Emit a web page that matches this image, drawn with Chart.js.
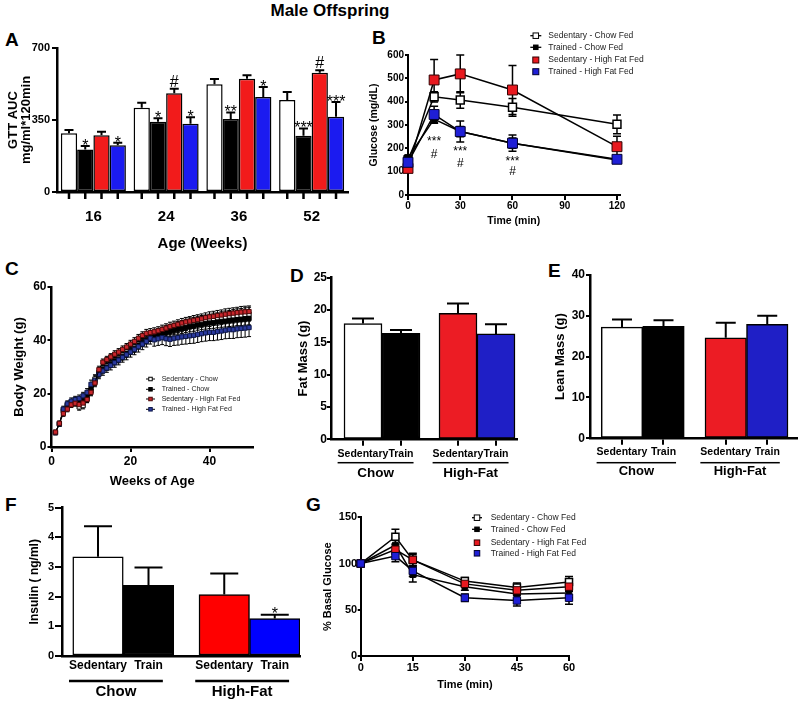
<!DOCTYPE html>
<html>
<head>
<meta charset="utf-8">
<title>Male Offspring</title>
<script src="https://cdn.jsdelivr.net/npm/chart.js@4.4.1/dist/chart.umd.min.js"></script>
<style>
  html, body { margin:0; padding:0; background:#fff; }
  body { position:relative; width:799px; height:701px; overflow:hidden; font-family:'Liberation Sans', Arial, Helvetica, sans-serif; color:#000; }
  canvas { position:absolute; }
  .txt { position:absolute; font-weight:bold; line-height:1; white-space:nowrap; }
  .letter { font-size:19px; }
</style>
</head>
<body>
<div class="txt" style="left:230px;top:2px;width:200px;text-align:center;font-size:17px;">Male Offspring</div>
<div class="txt letter" style="left:5px;top:29.5px;">A</div>
<div class="txt letter" style="left:372px;top:27.5px;">B</div>
<div class="txt letter" style="left:5px;top:258.5px;">C</div>
<div class="txt letter" style="left:290px;top:265.5px;">D</div>
<div class="txt letter" style="left:548px;top:260.5px;">E</div>
<div class="txt letter" style="left:5px;top:494.5px;">F</div>
<div class="txt letter" style="left:306px;top:494.5px;">G</div>
<script>
// ======================= DATA =======================
const gttSeries = ['Sedentary - Chow Fed', 'Trained - Chow Fed', 'Sedentary - High Fat Fed', 'Trained - High Fat Fed'];
const bwSeries = ['Sedentary - Chow', 'Trained - Chow', 'Sedentary - High Fat Fed', 'Trained - High Fat Fed'];

// Panel A : GTT AUC by age
const aAges = ['16', '24', '36', '52'];
const aYTicks = [0, 350, 700];
const aSedChow = [285, 410, 524, 447];
const aSedChowErr = [16, 24, 25, 39];
const aTrChow = [207, 342, 355, 274];
const aTrChowErr = [17, 16, 32, 35];
const aSedHF = [276, 480, 551, 580];
const aSedHFErr = [17, 22, 16, 12];
const aTrHF = [227, 332, 462, 366];
const aTrHFErr = [13, 31, 48, 71];
const aTrChowSig = ['*', '*', '**', '***'];
const aSedHFSig = ['', '#', '', '#'];
const aTrHFSig = ['*', '*', '*', '***'];

// Panel B : glucose tolerance test
const bTimes = [0, 15, 30, 60, 120];
const bXTicks = [0, 30, 60, 90, 120];
const bYTicks = [0, 100, 200, 300, 400, 500, 600];
const bSedChow = [150, 421, 407, 376, 303];
const bSedChowErr = [10, 22, 35, 38, 40];
const bTrChow = [160, 325, 272, 222, 150];
const bTrChowErr = [10, 18, 22, 22, 12];
const bSedHF = [114, 493, 519, 450, 207];
const bSedHFErr = [10, 88, 81, 105, 45];
const bTrHF = [140, 345, 272, 222, 153];
const bTrHFErr = [15, 35, 45, 35, 15];
const bSigText = ['***', '#', '***', '#', '***', '#'];
const bSigTime = [15, 15, 30, 30, 60, 60];
const bSigLevel = [243, 178, 200, 138, 160, 104];

// Panel C : body weight
const cWeeks = [1,2,3,4,5,6,7,8,9,10,11,12,13,14,15,16,17,18,19,20,21,22,23,24,25,26,27,28,29,30,31,32,33,34,35,36,37,38,39,40,41,42,43,44,45,46,47,48,49,50];
const cXTicks = [0, 20, 40];
const cYTicks = [0, 20, 40, 60];
const cSedChow = [5.5,8.8,13.5,15.5,16.5,17.0,15.0,15.5,18.0,21.0,25.5,28.0,29.5,30.5,31.6,32.5,33.4,34.5,35.6,36.4,37.5,38.6,39.4,40.5,41.4,42.0,42.6,43.0,43.6,44.0,44.4,45.0,45.4,45.8,46.3,46.5,46.8,47.1,47.3,47.5,47.9,48.0,48.3,48.6,48.8,49.0,49.3,49.4,49.6,49.8];
const cSedChowErr = [0.6,0.8,1.0,1.0,1.1,1.1,1.2,1.2,1.3,1.5,1.6,1.5,1.4,1.4,1.4,1.5,1.5,1.5,1.6,1.6,1.6,1.7,1.7,1.7,1.8,1.8,1.8,1.9,1.9,1.9,2.0,2.0,2.0,2.1,2.1,2.1,2.2,2.2,2.2,2.3,2.3,2.3,2.4,2.4,2.4,2.5,2.5,2.5,2.6,2.6];
const cTrChow = [5.3,8.6,14.0,15.8,16.8,17.5,17.0,18.0,19.0,22.0,24.5,27.5,29.0,30.0,31.2,32.2,33.0,34.0,35.0,36.2,37.0,38.2,39.2,40.2,41.2,41.5,42.0,42.6,43.0,43.3,43.8,44.2,44.5,44.8,45.2,45.4,45.8,46.0,46.3,46.5,46.6,46.9,47.1,47.2,47.5,47.6,47.8,47.9,48.1,48.2];
const cTrChowErr = [0.5,0.7,0.9,0.9,1.0,1.0,1.1,1.1,1.2,1.3,1.4,1.3,1.3,1.3,1.3,1.4,1.4,1.4,1.4,1.5,1.5,1.5,1.6,1.6,1.6,1.7,1.7,1.7,1.8,1.8,1.8,1.9,1.9,1.9,2.0,2.0,2.0,2.0,2.1,2.1,2.1,2.2,2.2,2.2,2.3,2.3,2.3,2.4,2.4,2.4];
const cSedHF = [5.6,8.9,12.5,14.2,15.8,16.4,15.9,16.5,17.8,20.5,24.0,29.0,31.8,32.8,33.8,34.8,35.6,36.6,37.5,38.6,39.6,40.8,41.8,42.6,42.9,43.2,43.6,44.1,44.6,45.2,45.6,46.0,46.5,46.9,47.2,47.5,47.8,48.1,48.5,48.8,49.0,49.3,49.5,49.8,50.0,50.2,50.4,50.6,50.7,50.8];
const cSedHFErr = [0.6,0.8,1.0,1.0,1.0,1.1,1.1,1.2,1.2,1.3,1.4,1.3,1.2,1.2,1.2,1.3,1.3,1.3,1.3,1.4,1.4,1.4,1.4,1.5,1.5,1.5,1.5,1.6,1.6,1.6,1.6,1.7,1.7,1.7,1.7,1.8,1.8,1.8,1.8,1.9,1.9,1.9,1.9,2.0,2.0,2.0,2.0,2.1,2.1,2.1];
const cTrHF = [5.4,8.7,14.2,16.2,17.2,17.8,18.2,19.2,20.5,23.5,25.0,27.2,28.5,29.6,30.6,31.6,32.6,33.6,34.6,35.6,36.6,37.6,38.6,39.6,40.8,40.2,40.6,41.0,40.6,40.4,40.8,41.0,41.3,41.5,41.7,41.9,42.2,42.5,42.8,43.0,43.0,43.3,43.5,43.8,44.0,44.0,44.3,44.5,44.6,44.8];
const cTrHFErr = [0.6,0.9,1.1,1.1,1.2,1.2,1.3,1.3,1.4,1.6,1.7,1.6,1.6,1.6,1.7,1.7,1.8,1.8,1.9,1.9,2.0,2.0,2.1,2.1,2.2,2.4,2.5,2.6,2.6,2.7,2.7,2.8,2.8,2.9,2.9,3.0,3.0,3.0,3.1,3.1,3.1,3.2,3.2,3.2,3.3,3.3,3.3,3.4,3.4,3.4];

// Panels D, E, F : bar groups
const barGroupLabels = ['Chow', 'High-Fat'];
const barSubLabels = ['Sedentary', 'Train', 'Sedentary', 'Train'];
const barSlots = [0, 1, 2.5, 3.5];
const dYTicks = [0, 5, 10, 15, 20, 25];
const dFatMass = [17.9, 16.4, 19.5, 16.3];
const dFatMassErr = [0.8, 0.5, 1.5, 1.5];
const eYTicks = [0, 10, 20, 30, 40];
const eLeanMass = [27.2, 27.4, 24.6, 27.9];
const eLeanMassErr = [1.9, 1.5, 3.7, 2.1];
const fYTicks = [0, 1, 2, 3, 4, 5];
const fInsulin = [3.34, 2.38, 2.07, 1.26];
const fInsulinErr = [1.03, 0.60, 0.71, 0.13];
const fSig = ['', '', '', '*'];

// Panel G : % basal glucose
const gTimes = [0, 10, 15, 30, 45, 60];
const gXTicks = [0, 15, 30, 45, 60];
const gYTicks = [0, 50, 100, 150];
const gSedChow = [100, 129, 104, 81, 74, 80];
const gSedChowErr = [2, 8, 6, 4, 5, 6];
const gTrChow = [100, 120, 88, 75, 67, 68];
const gTrChowErr = [2, 7, 8, 4, 5, 5];
const gSedHF = [100, 115, 104, 78, 71, 75];
const gSedHFErr = [2, 5, 7, 3, 5, 4];
const gTrHF = [100, 108, 92, 63, 60, 63];
const gTrHFErr = [2, 6, 6, 4, 6, 7];

// ======================= SETUP =======================
const FONT = "'Liberation Sans', Arial, Helvetica, sans-serif";
Chart.defaults.font.family = FONT;
Chart.defaults.color = '#000';
Chart.defaults.animation = false;
Chart.defaults.responsive = false;
Chart.defaults.events = [];
Chart.defaults.plugins.legend.display = false;
Chart.defaults.plugins.tooltip.enabled = false;

const RED_BAR = '#f21b1b', BLUE_BAR = '#1b1bf0';
const RED_DE = '#ec1c24', BLUE_DE = '#1f1fc6';

function pts(xs, ys) { return xs.map((x, i) => ({ x: x, y: ys[i] })); }
function valOf(d) { return (d !== null && typeof d === 'object') ? d.y : d; }

function place(id, r) {
  const c = document.createElement('canvas');
  c.id = id; c.width = r[2]; c.height = r[3];
  c.style.left = r[0] + 'px'; c.style.top = r[1] + 'px';
  document.body.appendChild(c);
  return c;
}
function frame(r, a) {
  return {
    padding: { left: 0, top: a[1] - r[1], right: r[0] + r[2] - a[2], bottom: 0 },
    yWidth: a[0] - r[0],
    xHeight: r[1] + r[3] - a[3]
  };
}
function numAxis(f, horiz, ticks, min, max, o) {
  const ax = {
    type: 'linear', min: min, max: max, offset: false,
    afterBuildTicks: s => { s.ticks = ticks.map(v => ({ value: v })); },
    border: { display: true, color: '#000', width: o.axisW || 2.5 },
    grid: { display: o.tl > 0, offset: false, drawOnChartArea: false, drawTicks: o.tl > 0, tickLength: o.tl, tickWidth: o.tickW || 2, lineWidth: o.tickW || 2, color: '#000', tickColor: '#000' },
    ticks: { font: { size: o.fs, weight: 'bold' }, padding: o.pad, color: '#000', autoSkip: false, maxRotation: 0, minRotation: 0 },
    title: { display: !!o.title, text: o.title, color: '#000', font: { size: o.tfs, weight: 'bold', lineHeight: o.tlh || 1.2 }, padding: { top: o.tpad || 0, bottom: o.tpad || 0 } }
  };
  if (horiz) ax.afterFit = s => { s.height = f.xHeight; };
  else ax.afterFit = s => { s.width = f.yWidth; };
  if (o.callback) ax.ticks.callback = o.callback;
  return ax;
}

// ---- plugins ----
function drawErrorBars(chart, o) {
  const ctx = chart.ctx, ys = chart.scales.y;
  ctx.save();
  ctx.strokeStyle = '#000';
  ctx.lineWidth = o.lineWidth || 1.5;
  chart.data.datasets.forEach((ds, di) => {
    if (!ds.errors) return;
    const meta = chart.getDatasetMeta(di);
    meta.data.forEach((el, i) => {
      const e = ds.errors[i];
      if (e == null) return;
      const v = valOf(ds.data[i]);
      const x = el.x;
      const yTop = ys.getPixelForValue(v + e);
      const yBot = o.mode === 'up' ? ys.getPixelForValue(v) : ys.getPixelForValue(v - e);
      const c = o.cap / 2;
      ctx.beginPath();
      ctx.moveTo(x, yTop); ctx.lineTo(x, yBot);
      ctx.moveTo(x - c, yTop); ctx.lineTo(x + c, yTop);
      if (o.mode !== 'up') { ctx.moveTo(x - c, yBot); ctx.lineTo(x + c, yBot); }
      ctx.stroke();
    });
  });
  ctx.restore();
}
const errorBarPlugin = {
  id: 'errorBars',
  beforeDatasetsDraw(chart, a, o) { if (o.phase === 'before') drawErrorBars(chart, o); },
  afterDatasetsDraw(chart, a, o) { if (o.phase !== 'before') drawErrorBars(chart, o); }
};
function markLift(text, fs) { return text.indexOf('*') >= 0 ? 0.43 * fs : 0; }
const sigPlugin = {
  id: 'sigMarks',
  afterDatasetsDraw(chart, a, o) {
    const ctx = chart.ctx, ys = chart.scales.y;
    ctx.save();
    ctx.fillStyle = '#000';
    ctx.font = o.fs + 'px ' + FONT;
    ctx.textAlign = 'center'; ctx.textBaseline = 'alphabetic';
    chart.data.datasets.forEach((ds, di) => {
      if (!ds.marks) return;
      const meta = chart.getDatasetMeta(di);
      meta.data.forEach((el, i) => {
        const t = ds.marks[i];
        if (!t) return;
        const top = ys.getPixelForValue(valOf(ds.data[i]) + (ds.errors ? ds.errors[i] : 0));
        ctx.fillText(t, el.x, top - o.gap + markLift(t, o.fs));
      });
    });
    ctx.restore();
  }
};
const freeMarkPlugin = {
  id: 'freeMarks',
  afterDatasetsDraw(chart, a, o) {
    const ctx = chart.ctx, xs = chart.scales.x, ys = chart.scales.y;
    ctx.save();
    ctx.fillStyle = '#000';
    ctx.font = o.fs + 'px ' + FONT;
    ctx.textAlign = 'center'; ctx.textBaseline = 'alphabetic';
    o.texts.forEach((t, i) => {
      const lift = t.indexOf('*') >= 0 ? 0.57 * o.fs : 0.36 * o.fs;
      ctx.fillText(t, xs.getPixelForValue(o.xs[i]), ys.getPixelForValue(o.ys[i]) + lift);
    });
    ctx.restore();
  }
};
const barTickPlugin = {
  id: 'barTicks',
  afterDraw(chart, a, o) {
    const ctx = chart.ctx, b = chart.chartArea.bottom;
    ctx.save();
    ctx.strokeStyle = '#000'; ctx.lineWidth = o.width;
    chart.data.datasets.forEach((ds, di) => {
      chart.getDatasetMeta(di).data.forEach(el => {
        ctx.beginPath(); ctx.moveTo(el.x, b); ctx.lineTo(el.x, b + o.len); ctx.stroke();
      });
    });
    ctx.restore();
  }
};
const groupLabelPlugin = {
  id: 'groupLabels',
  afterDraw(chart, a, o) {
    const ctx = chart.ctx, xs = chart.scales.x, b = chart.chartArea.bottom;
    ctx.save();
    ctx.fillStyle = '#000';
    o.groups.forEach(g => {
      ctx.font = 'bold ' + o.subFs + 'px ' + FONT;
      const x0 = xs.getPixelForValue(barSlots[g.from]) - ctx.measureText(barSubLabels[g.from]).width / 2;
      const x1 = xs.getPixelForValue(barSlots[g.to]) + ctx.measureText(barSubLabels[g.to]).width / 2;
      ctx.fillRect(x0, b + o.lineDy - o.lineW / 2, x1 - x0, o.lineW);
      ctx.font = 'bold ' + o.groupFs + 'px ' + FONT;
      ctx.textAlign = 'center'; ctx.textBaseline = 'middle';
      ctx.fillText(g.label, (x0 + x1) / 2, b + o.labelDy);
    });
    ctx.restore();
  }
};
const panelLegendPlugin = {
  id: 'panelLegend',
  afterDraw(chart, a, o) {
    if (!o || !o.ys) return;
    const ctx = chart.ctx, ox = chart.canvas.offsetLeft, oy = chart.canvas.offsetTop;
    ctx.save();
    ctx.font = o.fs + 'px ' + FONT;
    ctx.textAlign = 'left'; ctx.textBaseline = 'middle';
    chart.data.datasets.forEach((ds, i) => {
      const y = o.ys[i] - oy, sx = o.symbolX - ox;
      if (ds.legendLine) {
        ctx.strokeStyle = '#000'; ctx.lineWidth = o.lineW;
        ctx.beginPath(); ctx.moveTo(sx - o.lineHalf, y); ctx.lineTo(sx + o.lineHalf, y); ctx.stroke();
      }
      const s = ds.legendSize;
      ctx.fillStyle = ds.pointBackgroundColor;
      ctx.fillRect(sx - s / 2, y - s / 2, s, s);
      ctx.strokeStyle = ds.pointBorderColor; ctx.lineWidth = 1;
      ctx.strokeRect(sx - s / 2, y - s / 2, s, s);
      ctx.fillStyle = o.color;
      ctx.fillText(ds.label, o.textX - ox, y);
    });
    ctx.restore();
  }
};

// ======================= PANEL A =======================
(function () {
  const r = [0, 30, 360, 223], f = frame(r, [57, 48, 348, 192]);
  const y = numAxis(f, false, aYTicks, 0, 700, { fs: 11, pad: 2, tl: 5, title: ['GTT AUC', 'mg/ml*120min'], tfs: 13, tlh: 1, tpad: 6.5 });
  new Chart(place('chartA', r), {
    type: 'bar',
    data: {
      labels: aAges,
      datasets: [
        { label: gttSeries[0], data: aSedChow, errors: aSedChowErr, backgroundColor: '#ffffff' },
        { label: gttSeries[1], data: aTrChow, errors: aTrChowErr, marks: aTrChowSig, backgroundColor: '#000000' },
        { label: gttSeries[2], data: aSedHF, errors: aSedHFErr, marks: aSedHFSig, backgroundColor: RED_BAR },
        { label: gttSeries[3], data: aTrHF, errors: aTrHFErr, marks: aTrHFSig, backgroundColor: BLUE_BAR }
      ]
    },
    options: {
      layout: { padding: f.padding },
      datasets: { bar: { categoryPercentage: 0.894, barPercentage: 1, borderColor: '#000', borderWidth: 1.5, borderSkipped: false } },
      scales: {
        x: {
          type: 'category',
          afterFit: s => { s.height = f.xHeight; },
          border: { display: true, color: '#000', width: 2.5 },
          grid: { display: false, drawTicks: false },
          ticks: { font: { size: 15, weight: 'bold' }, padding: 15.7, color: '#000' },
          title: { display: true, text: 'Age (Weeks)', color: '#000', font: { size: 15, weight: 'bold' }, padding: { top: 0, bottom: 0.5 } }
        },
        y: y
      },
      plugins: {
        errorBars: { mode: 'up', cap: 9, lineWidth: 2, phase: 'after' },
        sigMarks: { fs: 16, gap: 2 },
        barTicks: { len: 7, width: 2.5 }
      }
    },
    plugins: [errorBarPlugin, sigPlugin, barTickPlugin]
  });
})();

// ======================= PANEL B =======================
(function () {
  const r = [362, 25, 300, 203], f = frame(r, [408, 55, 619.6, 195]);
  const common = { borderColor: '#000', borderWidth: 1.5, pointStyle: 'rect', tension: 0, clip: false, showLine: true };
  new Chart(place('chartB', r), {
    type: 'line',
    data: {
      datasets: [
        Object.assign({ label: gttSeries[0], data: pts(bTimes, bSedChow), errors: bSedChowErr, pointRadius: 5.6, pointBackgroundColor: '#ffffff', pointBorderColor: '#000', pointBorderWidth: 1.5, order: 3, legendLine: true, legendSize: 5.5 }, common),
        Object.assign({ label: gttSeries[1], data: pts(bTimes, bTrChow), errors: bTrChowErr, pointRadius: 4.2, pointBackgroundColor: '#000000', pointBorderColor: '#000', pointBorderWidth: 1, order: 2, legendLine: true, legendSize: 4.5 }, common),
        Object.assign({ label: gttSeries[2], data: pts(bTimes, bSedHF), errors: bSedHFErr, pointRadius: 7, pointBackgroundColor: '#e8191f', pointBorderColor: '#300000', pointBorderWidth: 1, order: 1, legendLine: false, legendSize: 6 }, common),
        Object.assign({ label: gttSeries[3], data: pts(bTimes, bTrHF), errors: bTrHFErr, pointRadius: 7, pointBackgroundColor: '#1f1fd6', pointBorderColor: '#000030', pointBorderWidth: 1, order: 0, legendLine: false, legendSize: 6 }, common)
      ]
    },
    options: {
      layout: { padding: f.padding },
      scales: {
        x: numAxis(f, true, bXTicks, 0, 121.5, { fs: 10, pad: 0, tl: 5, axisW: 2, title: 'Time (min)', tfs: 10.5, tpad: 0.7 }),
        y: numAxis(f, false, bYTicks, 0, 600, { fs: 10, pad: 1, tl: 3, axisW: 2, title: 'Glucose (mg/dL)', tfs: 10.5, tpad: 6 })
      },
      plugins: {
        errorBars: { mode: 'both', cap: 8, lineWidth: 1.5, phase: 'before' },
        freeMarks: { fs: 12, texts: bSigText, xs: bSigTime, ys: bSigLevel },
        panelLegend: { fs: 8.5, color: '#222', symbolX: 535.8, textX: 548.3, ys: [35.7, 47.3, 60, 71.7], lineHalf: 5.5, lineW: 1.3 }
      }
    },
    plugins: [errorBarPlugin, freeMarkPlugin, panelLegendPlugin]
  });
})();

// ======================= PANEL C =======================
(function () {
  const r = [0, 270, 262, 220], f = frame(r, [51.5, 287, 253, 447]);
  const common = { borderColor: '#000', borderWidth: 1, pointStyle: 'rect', pointRadius: 3, pointBorderWidth: 1, tension: 0, clip: false, legendLine: true, legendSize: 3.5 };
  new Chart(place('chartC', r), {
    type: 'line',
    data: {
      datasets: [
        Object.assign({ label: bwSeries[0], data: pts(cWeeks, cSedChow), errors: cSedChowErr, pointBackgroundColor: '#ffffff', pointBorderColor: '#000', order: 3 }, common),
        Object.assign({ label: bwSeries[1], data: pts(cWeeks, cTrChow), errors: cTrChowErr, pointBackgroundColor: '#000000', pointBorderColor: '#000', order: 2 }, common),
        Object.assign({ label: bwSeries[2], data: pts(cWeeks, cSedHF), errors: cSedHFErr, pointBackgroundColor: '#c8262c', pointBorderColor: '#4a0808', order: 0 }, common),
        Object.assign({ label: bwSeries[3], data: pts(cWeeks, cTrHF), errors: cTrHFErr, pointBackgroundColor: '#2b3a9e', pointBorderColor: '#0c1648', order: 1 }, common)
      ]
    },
    options: {
      layout: { padding: f.padding },
      scales: {
        x: numAxis(f, true, cXTicks, 0, 51, { fs: 12, pad: 2.8, tl: 5, title: 'Weeks of Age', tfs: 13, tpad: 0.5 }),
        y: numAxis(f, false, cYTicks, 0, 60, { fs: 12, pad: 1, tl: 4, title: 'Body Weight (g)', tfs: 13, tpad: 11.7 })
      },
      plugins: {
        errorBars: { mode: 'both', cap: 4, lineWidth: 1, phase: 'before' },
        panelLegend: { fs: 7, color: '#222', symbolX: 150.5, textX: 161.7, ys: [379, 389.3, 399, 409.3], lineHalf: 4.5, lineW: 1 }
      }
    },
    plugins: [errorBarPlugin, panelLegendPlugin]
  });
})();

// ======================= PANELS D, E, F =======================
function groupedBars(id, r, area, vals, errs, marks, colors, yTicks, yMax, xMin, xMax, o) {
  const f = frame(r, area);
  new Chart(place(id, r), {
    type: 'bar',
    data: {
      datasets: [{ label: o.title, data: pts(barSlots, vals), errors: errs, marks: marks, backgroundColor: colors, borderColor: '#000', borderWidth: 1.5, borderSkipped: false, categoryPercentage: 1, barPercentage: 1 }]
    },
    options: {
      layout: { padding: f.padding },
      scales: {
        x: numAxis(f, true, barSlots, xMin, xMax, { fs: o.subFs, pad: o.xPad, tl: o.xTl, callback: (v, i) => barSubLabels[i] }),
        y: numAxis(f, false, yTicks, 0, yMax, { fs: o.yFs, pad: o.yPad, tl: o.yTl, title: o.title, tfs: o.tfs, tpad: o.tpad })
      },
      plugins: {
        errorBars: { mode: 'up', cap: o.cap, lineWidth: 2, phase: 'after' },
        sigMarks: { fs: 16, gap: 3 },
        groupLabels: { subFs: o.subFs, groupFs: o.groupFs, lineW: o.lineW, lineDy: o.lineDy, labelDy: o.labelDy,
          groups: [{ label: barGroupLabels[0], from: 0, to: 1 }, { label: barGroupLabels[1], from: 2, to: 3 }] }
      }
    },
    plugins: [errorBarPlugin, sigPlugin, groupLabelPlugin]
  });
}
groupedBars('chartD', [290, 265, 237, 225], [331, 277.7, 517, 439.3], dFatMass, dFatMassErr, null,
  ['#ffffff', '#000000', RED_DE, BLUE_DE], dYTicks, 25, -0.842, 4.053,
  { title: 'Fat Mass (g)', tfs: 13, tpad: 5.2, yFs: 12, yPad: 0, yTl: 4, subFs: 10.5, xPad: 1.6, xTl: 6.5, cap: 22, groupFs: 13.5, lineW: 1.5, lineDy: 23.4, labelDy: 34 });
groupedBars('chartE', [545, 262, 254, 225], [590, 274.9, 797, 438.3], eLeanMass, eLeanMassErr, null,
  ['#ffffff', '#000000', RED_DE, BLUE_DE], eYTicks, 40, -0.771, 4.217,
  { title: 'Lean Mass (g)', tfs: 13, tpad: 7.2, yFs: 12, yPad: 1, yTl: 4, subFs: 10.5, xPad: 1.3, xTl: 6.5, cap: 20, groupFs: 13, lineW: 1.5, lineDy: 24.4, labelDy: 33.4 });
groupedBars('chartF', [0, 495, 310, 206], [62, 507.5, 300, 656], fInsulin, fInsulinErr, fSig,
  ['#ffffff', '#000000', '#ff0000', '#0000ff'], fYTicks, 5, -0.713, 4.0,
  { title: 'Insulin ( ng/ml)', tfs: 12, tpad: 27.8, yFs: 11, yPad: 1, yTl: 7, subFs: 12, xPad: 2.5, xTl: 0, cap: 28, groupFs: 15, lineW: 2.5, lineDy: 25, labelDy: 35.7 });

// ======================= PANEL G =======================
(function () {
  const r = [310, 500, 420, 192], f = frame(r, [360.7, 517.3, 569, 656]);
  const common = { borderColor: '#000', borderWidth: 1.5, pointStyle: 'rect', tension: 0, clip: false };
  new Chart(place('chartG', r), {
    type: 'line',
    data: {
      datasets: [
        Object.assign({ label: gttSeries[0], data: pts(gTimes, gSedChow), errors: gSedChowErr, pointRadius: 5, pointBackgroundColor: '#ffffff', pointBorderColor: '#000', pointBorderWidth: 1.5, order: 3, legendLine: true, legendSize: 5.5 }, common),
        Object.assign({ label: gttSeries[1], data: pts(gTimes, gTrChow), errors: gTrChowErr, pointRadius: 4, pointBackgroundColor: '#000000', pointBorderColor: '#000', pointBorderWidth: 1, order: 2, legendLine: true, legendSize: 4.5 }, common),
        Object.assign({ label: gttSeries[2], data: pts(gTimes, gSedHF), errors: gSedHFErr, pointRadius: 5.2, pointBackgroundColor: '#e8191f', pointBorderColor: '#300000', pointBorderWidth: 1, order: 1, legendLine: false, legendSize: 5.5 }, common),
        Object.assign({ label: gttSeries[3], data: pts(gTimes, gTrHF), errors: gTrHFErr, pointRadius: 5.2, pointBackgroundColor: '#1f1fd6', pointBorderColor: '#000030', pointBorderWidth: 1, order: 0, legendLine: false, legendSize: 5.5 }, common)
      ]
    },
    options: {
      layout: { padding: f.padding },
      scales: {
        x: numAxis(f, true, gXTicks, 0, 60, { fs: 11, pad: 0.4, tl: 5, axisW: 2, title: 'Time (min)', tfs: 11, tpad: 0.4 }),
        y: numAxis(f, false, gYTicks, 0, 150, { fs: 11, pad: 0.5, tl: 3, axisW: 2, title: '% Basal Glucose', tfs: 11, tpad: 11.1 })
      },
      plugins: {
        errorBars: { mode: 'both', cap: 8, lineWidth: 1.5, phase: 'before' },
        panelLegend: { fs: 8.5, color: '#222', symbolX: 477, textX: 490.7, ys: [517.7, 529.3, 542.7, 553.3], lineHalf: 5, lineW: 1.3 }
      }
    },
    plugins: [errorBarPlugin, panelLegendPlugin]
  });
})();
</script>
</body>
</html>
